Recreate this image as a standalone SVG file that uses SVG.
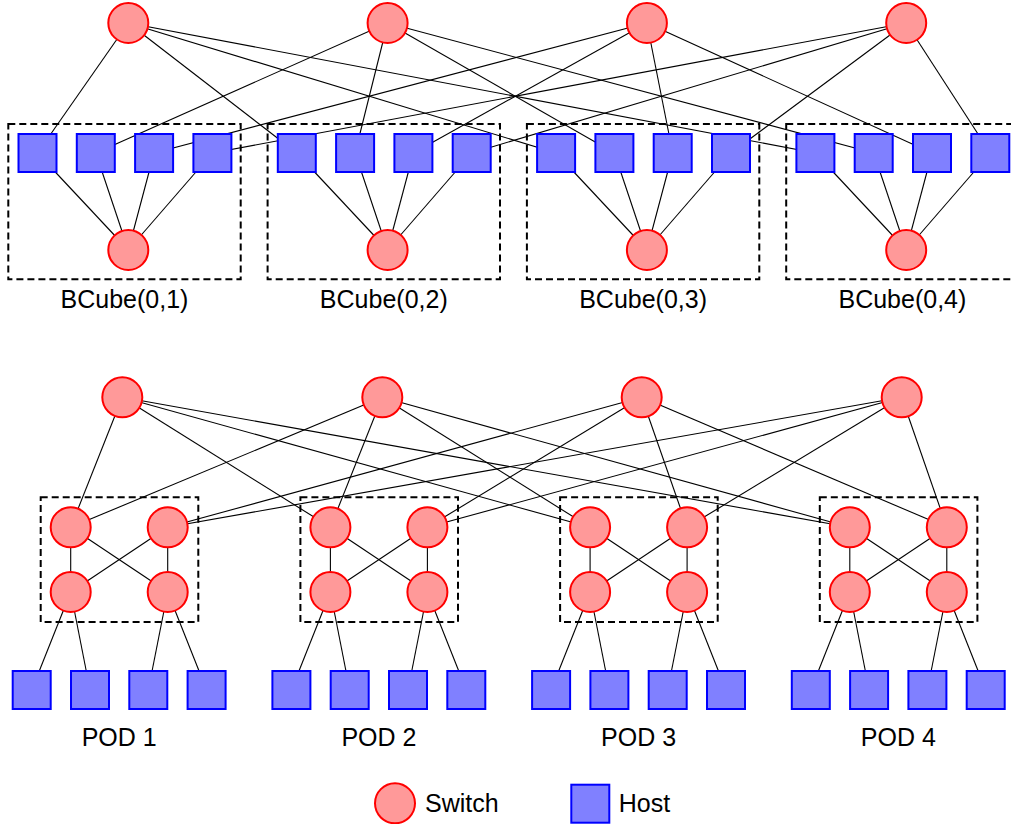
<svg xmlns="http://www.w3.org/2000/svg" width="1011" height="824" viewBox="0 0 1011 824">
  <style>
    .sw { fill: #ff9999; stroke: #ff0000; stroke-width: 2; }
    .host { fill: #8080ff; stroke: #0000ff; stroke-width: 2; }
    .group { fill: none; stroke: #000; stroke-width: 2; stroke-dasharray: 7 4; }
    .links line { stroke: #000; stroke-width: 1.1; }
    .lbl { font-family: "Liberation Sans", Arial, sans-serif; font-size: 25px; fill: #000; }
    .mid { text-anchor: middle; }
  </style>
  <defs>
    <circle id="switch" r="20" class="sw"/>
    <rect id="hostbox" x="-19" y="-19" width="38" height="38" class="host"/>
  </defs>

  <rect width="1011" height="824" fill="#fff"/>

  <!-- BCube cell outlines -->
  <g id="bcube-cells">
    <rect class="group" x="8.3" y="124" width="232.4" height="155.3"/>
    <rect class="group" x="267.6" y="124" width="232.4" height="155.3"/>
    <rect class="group" x="526.9" y="124" width="232.4" height="155.3"/>
    <rect class="group" x="786.2" y="124" width="232.4" height="155.3"/>
  </g>

  <!-- Fat-tree pod outlines -->
  <g id="pod-cells">
    <rect class="group" x="40.7" y="497.3" width="157.6" height="124.7"/>
    <rect class="group" x="300.4" y="497.3" width="157.6" height="124.7"/>
    <rect class="group" x="560.1" y="497.3" width="157.6" height="124.7"/>
    <rect class="group" x="819.8" y="497.3" width="157.6" height="124.7"/>
  </g>

  <g id="connectors" class="links">
    <!-- BCube level-1 switches to host j of every cell -->
    <line x1="128.3" y1="23" x2="37.5" y2="153"/>
    <line x1="128.3" y1="23" x2="296.8" y2="153"/>
    <line x1="128.3" y1="23" x2="556.1" y2="153"/>
    <line x1="128.3" y1="23" x2="815.4" y2="153"/>
    <line x1="387.6" y1="23" x2="95.8" y2="153"/>
    <line x1="387.6" y1="23" x2="355.1" y2="153"/>
    <line x1="387.6" y1="23" x2="614.4" y2="153"/>
    <line x1="387.6" y1="23" x2="873.7" y2="153"/>
    <line x1="646.9" y1="23" x2="154.1" y2="153"/>
    <line x1="646.9" y1="23" x2="413.4" y2="153"/>
    <line x1="646.9" y1="23" x2="672.7" y2="153"/>
    <line x1="646.9" y1="23" x2="932.0" y2="153"/>
    <line x1="906.2" y1="23" x2="212.4" y2="153"/>
    <line x1="906.2" y1="23" x2="471.7" y2="153"/>
    <line x1="906.2" y1="23" x2="731.0" y2="153"/>
    <line x1="906.2" y1="23" x2="990.3" y2="153"/>
    <!-- BCube level-0 switches to their own hosts -->
    <line x1="128.3" y1="250" x2="37.5" y2="153"/>
    <line x1="128.3" y1="250" x2="95.8" y2="153"/>
    <line x1="128.3" y1="250" x2="154.1" y2="153"/>
    <line x1="128.3" y1="250" x2="212.4" y2="153"/>
    <line x1="387.6" y1="250" x2="296.8" y2="153"/>
    <line x1="387.6" y1="250" x2="355.1" y2="153"/>
    <line x1="387.6" y1="250" x2="413.4" y2="153"/>
    <line x1="387.6" y1="250" x2="471.7" y2="153"/>
    <line x1="646.9" y1="250" x2="556.1" y2="153"/>
    <line x1="646.9" y1="250" x2="614.4" y2="153"/>
    <line x1="646.9" y1="250" x2="672.7" y2="153"/>
    <line x1="646.9" y1="250" x2="731.0" y2="153"/>
    <line x1="906.2" y1="250" x2="815.4" y2="153"/>
    <line x1="906.2" y1="250" x2="873.7" y2="153"/>
    <line x1="906.2" y1="250" x2="932.0" y2="153"/>
    <line x1="906.2" y1="250" x2="990.3" y2="153"/>

    <!-- Fat-tree core to aggregation -->
    <line x1="122.3" y1="397.3" x2="70.7" y2="527.3"/>
    <line x1="122.3" y1="397.3" x2="330.4" y2="527.3"/>
    <line x1="122.3" y1="397.3" x2="590.1" y2="527.3"/>
    <line x1="122.3" y1="397.3" x2="849.8" y2="527.3"/>
    <line x1="382.3" y1="397.3" x2="70.7" y2="527.3"/>
    <line x1="382.3" y1="397.3" x2="330.4" y2="527.3"/>
    <line x1="382.3" y1="397.3" x2="590.1" y2="527.3"/>
    <line x1="382.3" y1="397.3" x2="849.8" y2="527.3"/>
    <line x1="641.7" y1="397.3" x2="167.7" y2="527.3"/>
    <line x1="641.7" y1="397.3" x2="427.4" y2="527.3"/>
    <line x1="641.7" y1="397.3" x2="687.1" y2="527.3"/>
    <line x1="641.7" y1="397.3" x2="946.8" y2="527.3"/>
    <line x1="901.7" y1="397.3" x2="167.7" y2="527.3"/>
    <line x1="901.7" y1="397.3" x2="427.4" y2="527.3"/>
    <line x1="901.7" y1="397.3" x2="687.1" y2="527.3"/>
    <line x1="901.7" y1="397.3" x2="946.8" y2="527.3"/>

    <!-- Pod 1 internals -->
    <line x1="70.7" y1="527.3" x2="70.7" y2="592"/>
    <line x1="167.7" y1="527.3" x2="167.7" y2="592"/>
    <line x1="70.7" y1="527.3" x2="167.7" y2="592"/>
    <line x1="167.7" y1="527.3" x2="70.7" y2="592"/>
    <line x1="70.7" y1="592" x2="31.7" y2="690"/>
    <line x1="70.7" y1="592" x2="90.0" y2="690"/>
    <line x1="167.7" y1="592" x2="148.3" y2="690"/>
    <line x1="167.7" y1="592" x2="206.6" y2="690"/>
    <!-- Pod 2 internals -->
    <line x1="330.4" y1="527.3" x2="330.4" y2="592"/>
    <line x1="427.4" y1="527.3" x2="427.4" y2="592"/>
    <line x1="330.4" y1="527.3" x2="427.4" y2="592"/>
    <line x1="427.4" y1="527.3" x2="330.4" y2="592"/>
    <line x1="330.4" y1="592" x2="291.4" y2="690"/>
    <line x1="330.4" y1="592" x2="349.7" y2="690"/>
    <line x1="427.4" y1="592" x2="408.0" y2="690"/>
    <line x1="427.4" y1="592" x2="466.3" y2="690"/>
    <!-- Pod 3 internals -->
    <line x1="590.1" y1="527.3" x2="590.1" y2="592"/>
    <line x1="687.1" y1="527.3" x2="687.1" y2="592"/>
    <line x1="590.1" y1="527.3" x2="687.1" y2="592"/>
    <line x1="687.1" y1="527.3" x2="590.1" y2="592"/>
    <line x1="590.1" y1="592" x2="551.1" y2="690"/>
    <line x1="590.1" y1="592" x2="609.4" y2="690"/>
    <line x1="687.1" y1="592" x2="667.7" y2="690"/>
    <line x1="687.1" y1="592" x2="726.0" y2="690"/>
    <!-- Pod 4 internals -->
    <line x1="849.8" y1="527.3" x2="849.8" y2="592"/>
    <line x1="946.8" y1="527.3" x2="946.8" y2="592"/>
    <line x1="849.8" y1="527.3" x2="946.8" y2="592"/>
    <line x1="946.8" y1="527.3" x2="849.8" y2="592"/>
    <line x1="849.8" y1="592" x2="810.8" y2="690"/>
    <line x1="849.8" y1="592" x2="869.1" y2="690"/>
    <line x1="946.8" y1="592" x2="927.4" y2="690"/>
    <line x1="946.8" y1="592" x2="985.7" y2="690"/>
  </g>

  <!-- BCube level-1 switches -->
  <g id="bc-l1-0"><use href="#switch" x="128.3" y="23"/></g>
  <g id="bc-l1-1"><use href="#switch" x="387.6" y="23"/></g>
  <g id="bc-l1-2"><use href="#switch" x="646.9" y="23"/></g>
  <g id="bc-l1-3"><use href="#switch" x="906.2" y="23"/></g>

  <!-- BCube hosts -->
  <g id="bc-hosts-1">
    <use href="#hostbox" x="37.5" y="153"/><use href="#hostbox" x="95.8" y="153"/>
    <use href="#hostbox" x="154.1" y="153"/><use href="#hostbox" x="212.4" y="153"/>
  </g>
  <g id="bc-hosts-2">
    <use href="#hostbox" x="296.8" y="153"/><use href="#hostbox" x="355.1" y="153"/>
    <use href="#hostbox" x="413.4" y="153"/><use href="#hostbox" x="471.7" y="153"/>
  </g>
  <g id="bc-hosts-3">
    <use href="#hostbox" x="556.1" y="153"/><use href="#hostbox" x="614.4" y="153"/>
    <use href="#hostbox" x="672.7" y="153"/><use href="#hostbox" x="731.0" y="153"/>
  </g>
  <g id="bc-hosts-4">
    <use href="#hostbox" x="815.4" y="153"/><use href="#hostbox" x="873.7" y="153"/>
    <use href="#hostbox" x="932.0" y="153"/><use href="#hostbox" x="990.3" y="153"/>
  </g>

  <!-- BCube level-0 switches -->
  <g id="bc-l0-1"><use href="#switch" x="128.3" y="250"/></g>
  <g id="bc-l0-2"><use href="#switch" x="387.6" y="250"/></g>
  <g id="bc-l0-3"><use href="#switch" x="646.9" y="250"/></g>
  <g id="bc-l0-4"><use href="#switch" x="906.2" y="250"/></g>

  <g id="bc-labels" class="lbl mid">
    <text x="124.5" y="308">BCube(0,1)</text>
    <text x="383.8" y="308">BCube(0,2)</text>
    <text x="643.1" y="308">BCube(0,3)</text>
    <text x="902.4" y="308">BCube(0,4)</text>
  </g>

  <!-- Fat-tree core switches -->
  <g id="core-0"><use href="#switch" x="122.3" y="397.3"/></g>
  <g id="core-1"><use href="#switch" x="382.3" y="397.3"/></g>
  <g id="core-2"><use href="#switch" x="641.7" y="397.3"/></g>
  <g id="core-3"><use href="#switch" x="901.7" y="397.3"/></g>

  <!-- Pods: aggregation and edge switches -->
  <g id="pod-1-switches">
    <use href="#switch" x="70.7" y="527.3"/><use href="#switch" x="167.7" y="527.3"/>
    <use href="#switch" x="70.7" y="592"/><use href="#switch" x="167.7" y="592"/>
  </g>
  <g id="pod-2-switches">
    <use href="#switch" x="330.4" y="527.3"/><use href="#switch" x="427.4" y="527.3"/>
    <use href="#switch" x="330.4" y="592"/><use href="#switch" x="427.4" y="592"/>
  </g>
  <g id="pod-3-switches">
    <use href="#switch" x="590.1" y="527.3"/><use href="#switch" x="687.1" y="527.3"/>
    <use href="#switch" x="590.1" y="592"/><use href="#switch" x="687.1" y="592"/>
  </g>
  <g id="pod-4-switches">
    <use href="#switch" x="849.8" y="527.3"/><use href="#switch" x="946.8" y="527.3"/>
    <use href="#switch" x="849.8" y="592"/><use href="#switch" x="946.8" y="592"/>
  </g>

  <!-- Pod hosts -->
  <g id="pod-1-hosts">
    <use href="#hostbox" x="31.7" y="690"/><use href="#hostbox" x="90.0" y="690"/>
    <use href="#hostbox" x="148.3" y="690"/><use href="#hostbox" x="206.6" y="690"/>
  </g>
  <g id="pod-2-hosts">
    <use href="#hostbox" x="291.4" y="690"/><use href="#hostbox" x="349.7" y="690"/>
    <use href="#hostbox" x="408.0" y="690"/><use href="#hostbox" x="466.3" y="690"/>
  </g>
  <g id="pod-3-hosts">
    <use href="#hostbox" x="551.1" y="690"/><use href="#hostbox" x="609.4" y="690"/>
    <use href="#hostbox" x="667.7" y="690"/><use href="#hostbox" x="726.0" y="690"/>
  </g>
  <g id="pod-4-hosts">
    <use href="#hostbox" x="810.8" y="690"/><use href="#hostbox" x="869.1" y="690"/>
    <use href="#hostbox" x="927.4" y="690"/><use href="#hostbox" x="985.7" y="690"/>
  </g>

  <g id="pod-labels" class="lbl mid">
    <text x="119.2" y="745.7">POD 1</text>
    <text x="378.9" y="745.7">POD 2</text>
    <text x="638.6" y="745.7">POD 3</text>
    <text x="898.3" y="745.7">POD 4</text>
  </g>

  <!-- Legend -->
  <g id="legend-switch">
    <use href="#switch" x="395" y="803.3"/>
    <text class="lbl" x="425" y="812.3">Switch</text>
  </g>
  <g id="legend-host">
    <use href="#hostbox" x="590.3" y="803.7"/>
    <text class="lbl" x="618.7" y="812.3">Host</text>
  </g>
</svg>
